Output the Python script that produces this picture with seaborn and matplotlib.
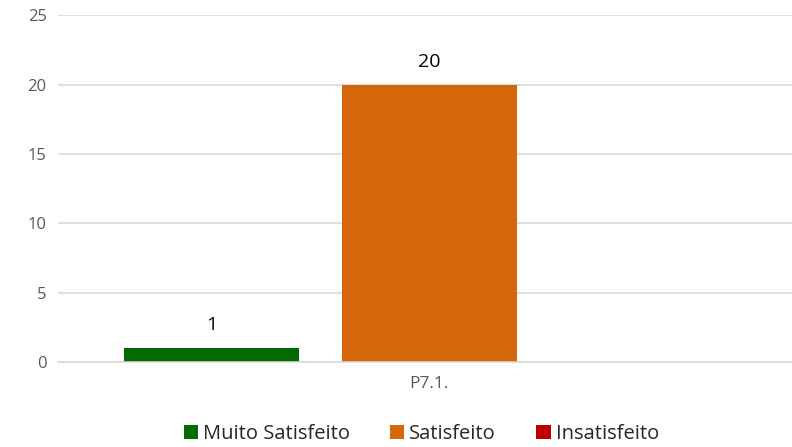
import matplotlib
matplotlib.use("Agg")
import matplotlib.pyplot as plt
import seaborn as sns
import pandas as pd
from matplotlib.patches import Patch

categories = ["P7.1."]
series = ["Muito Satisfeito", "Satisfeito", "Insatisfeito"]
values = [1, 20, 0]
colors = ["#036A04", "#D4660C", "#C00000"]
yticks = [0, 5, 10, 15, 20, 25]

df = pd.DataFrame({"cat": categories * len(series), "serie": series, "val": values})

sns.set_theme(style="white")
plt.rcParams["font.family"] = ["Open Sans", "DejaVu Sans"]

fig = plt.figure(figsize=(7.92, 4.47), dpi=100)
ax = fig.add_axes([0.073, 0.19, 0.938, 0.776])

sns.barplot(data=df, x="cat", y="val", hue="serie", hue_order=series,
            palette=colors, width=0.88, gap=0.197, ax=ax, legend=False,
            saturation=1, errorbar=None, linewidth=0)

ax.set_ylim(0, 25)
ax.set_xlim(-0.5, 0.5)
ax.set_yticks(yticks)
ax.set_yticklabels([str(t) for t in yticks], color="#595959", fontsize=12)
ax.yaxis.grid(True, color="#D9D9D9", linewidth=1.2)
ax.set_axisbelow(True)
for name, s in ax.spines.items():
    s.set_visible(False)
ax.spines["bottom"].set_visible(True)
ax.spines["bottom"].set_color("#D9D9D9")
ax.spines["bottom"].set_linewidth(1.2)
ax.tick_params(axis="y", length=0, pad=8)
ax.tick_params(axis="x", length=0, pad=10, colors="#595959", labelsize=12.5)
ax.set_xlabel("")
ax.set_ylabel("")

for cont, v in zip(ax.containers, values):
    if v > 0:
        ax.bar_label(cont, labels=[str(v)], padding=10, fontsize=14, color="#000000")

handles = [Patch(facecolor=c, edgecolor="none") for c in colors]
fig.legend(handles, series, loc="center", bbox_to_anchor=(0.532, 0.028), ncol=3,
           frameon=False, fontsize=14.5, handlelength=0.7, handleheight=0.7,
           handletextpad=0.25, columnspacing=2.0)

fig.savefig("out.png", dpi=100)
